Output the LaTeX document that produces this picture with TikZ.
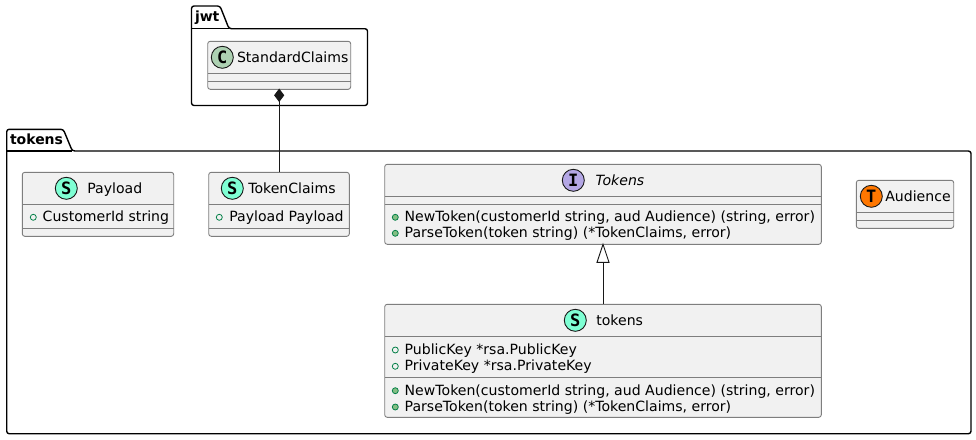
\documentclass[tikz,border=0pt]{standalone}
\usepackage{fontspec}
\setmainfont{DejaVu Sans}
\newfontfamily\spotfont{DejaVu Sans Mono}
\usetikzlibrary{shapes.geometric}
\definecolor{boxfill}{HTML}{F1F1F1}
\definecolor{boxline}{HTML}{7E7E7E}
\definecolor{publine}{HTML}{038048}
\definecolor{pubfill}{HTML}{84BE84}
\definecolor{spotC}{HTML}{ADD1B2}
\definecolor{spotS}{HTML}{7FFFD4}
\definecolor{spotI}{HTML}{B4A7E5}
\definecolor{spotT}{HTML}{FF7700}
\definecolor{ink}{HTML}{181818}
\tikzset{
  x=1pt,y=-1pt,
  umlbox/.style={draw=boxline,fill=boxfill,line width=0.9pt,rounded corners=2.5pt,anchor=north west,inner sep=0pt,outer sep=0pt},
  sepline/.style={draw=boxline,line width=0.9pt},
  pkg/.style={draw=black,line width=1.4pt,rounded corners=2.5pt,line join=round},
  lbl/.style={anchor=base west,inner sep=0pt,outer sep=0pt,text=black,font=\fontsize{14.08}{16}\selectfont},
  pkglbl/.style={lbl,font=\fontsize{14}{16}\selectfont\bfseries},
  spot/.style={circle,draw=ink,line width=0.9pt,minimum size=22pt,inner sep=0pt,outer sep=0pt,text=black,font=\fontsize{17}{17}\selectfont\spotfont\bfseries},
  fieldmark/.style={circle,draw=publine,fill=none,line width=0.8pt,minimum size=6pt,inner sep=0pt,outer sep=0pt},
  methodmark/.style={circle,draw=publine,fill=pubfill,line width=0.8pt,minimum size=6pt,inner sep=0pt,outer sep=0pt},
  conn/.style={draw=ink,line width=0.9pt},
}
\begin{document}
\begin{tikzpicture}
\useasboundingbox[fill=white] (0,0) rectangle (976,439);

% packages
\draw[pkg] (191.5,28.7) -- (191.5,6) -- (220,6) -- (229,28.7) -- (367.5,28.7) -- (367.5,105.5) -- (191.5,105.5) -- cycle;
\draw[pkg] (191.5,28.7) -- (229,28.7);
\node[pkglbl] (jwtlabel) at (195,21) {jwt};
\draw[pkg] (6.7,151) -- (6.7,129.3) -- (63.3,129.3) -- (72.3,151) -- (971,151) -- (971,433.7) -- (6.7,433.7) -- cycle;
\draw[pkg] (6.7,151) -- (72.3,151);
\node[pkglbl] (tokenslabel) at (10,144) {tokens};

% StandardClaims
\node[umlbox,minimum width=143pt,minimum height=48pt] (standard) at (207.7,41.3) {};
\draw[sepline] (207.7,73.3) -- (350.7,73.3) (207.7,81.3) -- (350.7,81.3);
\node[spot,fill=spotC] (standardspot) at (222.3,57.3) {C};
\node[lbl] (standardname) at (237,62.3) {StandardClaims};

% Payload
\node[umlbox,minimum width=151.4pt,minimum height=64pt] (payload) at (22.3,172.3) {};
\draw[sepline] (22.3,204.3) -- (173.7,204.3) (22.3,228.3) -- (173.7,228.3);
\node[spot,fill=spotS] (payloadspot) at (66.3,188.3) {S};
\node[lbl] (payloadname) at (87.3,193.3) {Payload};
\node[fieldmark] (payloadmark) at (33.3,217.3) {};
\node[lbl] (payloadattr) at (42.7,221.8) {CustomerId string};

% TokenClaims
\node[umlbox,minimum width=140.6pt,minimum height=64pt] (claims) at (208.7,172.3) {};
\draw[sepline] (208.7,204.3) -- (349.3,204.3) (208.7,228.3) -- (349.3,228.3);
\node[spot,fill=spotS] (claimsspot) at (232.3,188.3) {S};
\node[lbl] (claimsname) at (248.3,193.3) {TokenClaims};
\node[fieldmark] (claimsmark) at (219.3,217.3) {};
\node[lbl] (claimsattr) at (229.3,221.8) {Payload Payload};

% Tokens interface
\node[umlbox,minimum width=436.6pt,minimum height=80pt] (iface) at (384.7,164.3) {};
\draw[sepline] (384.7,196.3) -- (821.3,196.3) (384.7,204.3) -- (821.3,204.3);
\node[spot,fill=spotI] (ifacespot) at (573.3,180.3) {I};
\node[lbl,font=\fontsize{14.08}{16}\selectfont\itshape] (ifacename) at (595.7,185.3) {Tokens};
\node[methodmark] (ifacemarka) at (395.3,217.3) {};
\node[lbl] (ifacem1) at (404.7,221.8) {NewToken(customerId string, aud Audience) (string, error)};
\node[methodmark] (ifacemarkb) at (395.3,233.3) {};
\node[lbl] (ifacem2) at (404.7,237.8) {ParseToken(token string) (*TokenClaims, error)};

% tokens struct
\node[umlbox,minimum width=436.6pt,minimum height=113pt] (impl) at (384.7,304.3) {};
\draw[sepline] (384.7,336.3) -- (821.3,336.3) (384.7,377) -- (821.3,377);
\node[spot,fill=spotS] (implspot) at (575.3,320.3) {S};
\node[lbl] (implname) at (596.3,325.3) {tokens};
\node[fieldmark] (implmarka) at (395.3,350) {};
\node[lbl] (implf1) at (404.7,354.5) {PublicKey *rsa.PublicKey};
\node[fieldmark] (implmarkb) at (395.3,366.3) {};
\node[lbl] (implf2) at (404.7,370.8) {PrivateKey *rsa.PrivateKey};
\node[methodmark] (implmarkc) at (395.3,390.7) {};
\node[lbl] (implm1) at (404.7,395.2) {NewToken(customerId string, aud Audience) (string, error)};
\node[methodmark] (implmarkd) at (395.3,407) {};
\node[lbl] (implm2) at (404.7,411.5) {ParseToken(token string) (*TokenClaims, error)};

% Audience
\node[umlbox,minimum width=97.4pt,minimum height=48pt] (audience) at (856.3,180.3) {};
\draw[sepline] (856.3,212.3) -- (953.7,212.3) (856.3,220.3) -- (953.7,220.3);
\node[spot,fill=spotT] (audiencespot) at (871.3,196.3) {T};
\node[lbl] (audiencename) at (885.3,201.3) {Audience};

% connectors
\draw[conn] (impl.north) -- ([yshift=-18pt]iface.south);
\draw[conn,fill=white,line join=miter] (iface.south) -- ++(6,18) -- ++(-12,0) -- cycle;
\draw[conn] (claims.north -| standard.south) -- ([yshift=-6pt]standard.south);
\draw[conn,fill=ink] (standard.south) -- ++(4.5,6) -- ++(-4.5,6) -- ++(-4.5,-6) -- cycle;
\end{tikzpicture}
\end{document}
